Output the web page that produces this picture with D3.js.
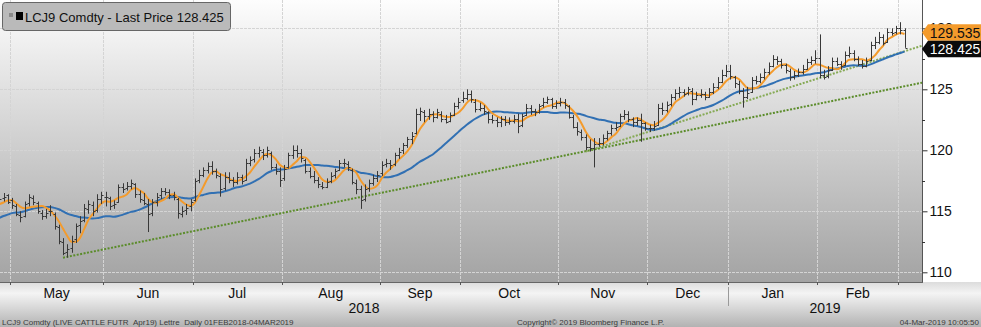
<!DOCTYPE html>
<html><head><meta charset="utf-8">
<script src="https://cdn.jsdelivr.net/npm/d3@7"></script>
<style>
html,body{margin:0;padding:0;background:#fff;}
svg{display:block;font-family:"Liberation Sans",Arial,sans-serif;}
</style></head><body>
<svg id="c" width="981" height="327"></svg>
<script>
// ---------------- data ----------------
const firstDay = "2018-04-26", lastDay = "2019-03-04";
const holidays = ["2018-05-28","2018-07-04","2018-09-03","2018-11-22","2018-12-05","2018-12-25","2019-01-01","2019-01-21","2019-02-18"];

const opens = [
 115.8,116.1,116.3,
 115.9,115.4,114.7,114.6,115.7,116.1,115.7,114.9,114.6,115.0,114.8,113.7,112.5,111.7,112.0,112.7,113.9,114.3,115.2,115.5,115.1,116.0,
 116.2,116.1,115.5,115.8,117.0,116.9,117.1,117.2,116.4,115.9,115.6,114.9,115.8,116.3,116.7,116.6,116.3,116.0,114.8,115.1,115.4,
 115.9,117.6,118.0,118.4,118.7,118.3,117.9,116.9,117.8,117.6,117.4,117.8,117.6,119.0,119.3,119.8,119.9,119.6,119.8,118.6,118.3,
 117.7,118.6,119.6,120.0,119.8,119.2,118.3,117.9,117.6,117.1,117.0,117.5,118.0,118.4,119.0,118.9,118.4,117.3,116.8,116.0,116.9,117.3,117.7,
 118.1,118.9,119.0,118.9,119.6,120.0,120.4,120.9,121.4,123.0,123.1,122.8,123.0,122.7,123.0,122.6,122.4,122.9,123.6,
 124.1,124.3,124.6,124.0,123.4,123.5,123.1,122.6,122.5,122.3,122.6,122.3,122.4,122.6,122.1,122.9,123.5,123.2,123.1,123.7,124.0,124.2,123.6,
 123.9,124.0,123.6,122.7,121.9,121.5,121.1,120.3,120.2,120.5,120.6,121.0,121.4,121.8,122.0,122.8,123.0,122.6,122.3,122.5,122.2,
 121.8,121.8,122.1,123.5,123.3,123.8,124.4,124.7,124.8,124.7,124.9,124.2,124.5,124.6,124.4,124.8,125.2,125.6,126.2,
 126.5,126.0,125.4,124.9,124.4,124.8,125.8,125.7,126.0,126.4,126.9,127.5,127.3,127.0,126.5,126.0,126.2,126.4,126.7,127.2,127.4,
 127.6,126.2,126.1,126.6,127.3,127.1,127.0,127.8,128.0,127.5,127.1,126.9,127.4,128.6,128.9,129.3,128.9,129.7,129.7,
 130.0,129.9];
const highs = [
 116.4,116.5,116.4,
 116.1,115.6,115.0,115.8,116.4,116.3,115.8,115.1,115.2,115.5,114.9,113.9,112.8,112.3,113.0,114.0,114.6,115.6,115.9,115.8,116.4,116.6,
 116.6,116.2,115.9,117.2,117.3,117.4,117.6,117.3,116.7,116.5,116.0,116.0,116.5,116.9,116.9,116.8,116.6,116.1,115.4,115.6,116.0,
 117.7,118.4,118.6,119.0,119.1,118.5,118.1,118.2,118.2,117.8,118.2,118.0,119.3,119.5,120.1,120.3,120.1,120.3,119.9,118.9,118.6,
 118.8,119.8,120.4,120.4,120.1,119.3,118.6,118.3,117.8,117.4,117.7,118.2,118.5,119.2,119.3,119.1,118.5,117.6,117.1,117.2,117.6,118.0,118.3,
 119.1,119.3,119.2,119.8,120.2,120.6,121.1,121.5,123.4,123.5,123.3,123.4,123.2,123.4,123.2,122.9,123.1,123.9,124.3,
 124.8,125.0,124.9,124.2,123.9,123.7,123.2,122.9,122.7,122.8,122.8,122.7,122.9,123.0,123.0,123.8,123.7,123.4,123.8,124.3,124.4,124.3,124.1,
 124.3,124.2,123.7,122.9,122.3,121.7,121.3,120.9,121.0,121.0,121.3,121.6,122.1,122.3,123.0,123.3,123.2,122.7,122.7,123.0,122.3,
 122.1,122.4,123.8,123.9,124.0,124.6,125.0,125.2,125.0,125.2,125.1,124.8,125.0,124.8,125.1,125.5,126.0,126.6,127.0,
 127.0,126.1,125.7,125.1,125.2,126.0,126.1,126.3,126.7,127.2,127.8,127.7,127.5,127.1,126.7,126.5,126.7,127.0,127.5,127.7,128.2,
 129.5,126.6,126.9,127.6,127.6,127.3,128.1,128.5,128.2,127.7,127.4,127.6,128.9,129.3,129.7,129.5,130.0,130.0,130.2,
 130.5,130.0];
const lows = [
 115.6,115.8,115.6,
 115.2,114.6,114.1,114.5,115.4,115.5,114.8,114.3,114.4,114.6,113.5,112.3,111.4,111.2,111.6,112.4,113.2,114.1,114.8,114.6,114.9,115.6,
 115.4,115.1,115.2,115.7,116.5,116.7,116.8,116.1,115.7,115.5,113.3,114.6,115.4,116.0,116.3,116.0,115.9,114.4,114.5,114.7,115.0,
 115.8,117.3,117.8,118.1,118.0,117.7,116.2,116.7,117.3,117.0,117.2,117.2,117.5,118.7,119.0,119.4,119.2,119.4,118.4,118.0,117.0,
 117.5,118.5,119.3,119.4,119.0,118.1,117.7,117.3,116.9,116.8,116.9,117.3,117.7,118.3,118.6,118.3,117.2,116.4,115.2,115.8,116.6,117.1,117.4,
 117.9,118.6,118.4,118.7,119.3,119.7,120.2,120.5,121.3,122.4,122.3,122.5,122.3,122.6,122.3,122.2,122.3,122.8,123.4,
 123.9,124.1,123.9,123.1,123.2,122.9,122.2,122.2,121.9,121.9,122.0,122.1,122.2,121.4,121.9,122.8,122.9,122.8,123.0,123.5,123.8,123.4,123.4,
 123.6,123.4,122.6,121.8,121.2,120.8,120.0,119.9,118.6,120.3,120.4,120.8,121.2,121.6,121.9,122.5,122.3,121.9,122.0,120.7,121.6,
 121.5,121.6,122.0,122.9,123.1,123.6,124.1,124.3,124.4,124.5,123.7,124.1,124.3,124.1,124.3,124.6,125.0,125.5,126.0,
 125.8,125.1,124.6,123.5,124.2,124.7,125.4,125.5,125.8,126.2,126.8,127.0,126.7,126.3,125.7,125.8,126.0,126.2,126.6,127.0,127.1,
 125.9,125.8,125.9,126.5,126.9,126.6,126.9,127.6,127.3,126.9,126.7,126.8,127.3,128.3,128.7,128.6,128.8,129.4,129.5,
 129.5,128.4];
const closes = [
 116.0,116.2,115.8,
 115.5,114.8,114.5,115.6,116.2,115.8,115.0,114.6,114.9,115.0,113.8,112.6,111.6,111.9,112.6,113.8,114.2,115.3,115.6,115.0,116.0,116.3,
 116.2,115.4,115.6,117.0,116.8,117.1,117.3,116.4,116.0,115.7,114.8,115.8,116.2,116.7,116.6,116.3,116.2,114.9,115.0,115.3,115.8,
 117.5,118.0,118.4,118.7,118.3,118.0,116.8,117.8,117.6,117.4,117.8,117.5,119.0,119.2,119.8,120.0,119.6,120.0,118.6,118.3,117.6,
 118.5,119.6,120.0,119.8,119.4,118.3,117.9,117.6,117.2,117.0,117.4,117.9,118.3,119.0,119.0,118.6,117.4,116.8,115.9,116.8,117.3,117.7,118.0,
 118.8,119.0,118.8,119.6,119.9,120.4,120.9,121.2,123.0,123.2,122.8,123.0,122.7,123.1,122.6,122.3,122.9,123.6,124.0,
 124.3,124.6,124.2,123.4,123.5,123.2,122.6,122.5,122.3,122.6,122.3,122.4,122.6,122.0,122.8,123.5,123.2,123.1,123.6,124.0,124.2,123.6,123.9,
 124.0,123.7,122.7,121.9,121.6,121.1,120.3,120.2,120.5,120.6,121.0,121.4,121.8,121.9,122.8,123.0,122.6,122.3,122.5,122.2,121.8,
 121.8,122.0,123.5,123.3,123.7,124.4,124.7,124.8,124.6,125.0,124.2,124.5,124.6,124.4,124.8,125.2,125.6,126.2,126.5,
 126.1,125.5,124.9,124.4,124.7,125.8,125.7,126.0,126.4,126.9,127.5,127.3,127.0,126.6,126.0,126.2,126.4,126.7,127.2,127.4,127.6,
 126.2,126.0,126.6,127.3,127.1,126.9,127.8,128.0,127.5,127.1,126.9,127.3,128.6,128.9,129.3,128.8,129.7,129.65,130.0,
 129.9,128.425];
// closes before the visible window (only feed the moving averages at the left edge)
const priorCloses = [113.2,113.5,113.0,113.8,114.2,113.6,113.9,114.0,113.4,113.8,
                     114.6,115.0,115.3,114.8,115.2,115.5,115.0,115.4,116.0];

const fastPeriod = 5, slowPeriod = 20;
const trendLines = [
  [{date:"2018-05-17", value:111.2}, {date:"2019-03-04", value:125.25}],
  [{date:"2018-11-09", value:119.9}, {date:"2019-03-04", value:128.12}]
];
const monthLabels = ["May","Jun","Jul","Aug","Sep","Oct","Nov","Dec","Jan","Feb"];
const yearLabels = ["2018","2019"];
const yTicks = [110,115,120,125,130];
const yMinorTicks = [112.5,117.5,122.5,127.5];
const legendText = "LCJ9 Comdty - Last Price 128.425";
const fastTagText = "129.535";
const lastTagText = "128.425";
const footLeft = "LCJ9 Comdty (LIVE CATTLE FUTR\u00A0\u00A0Apr19) Lettre\u00A0\u00A0Daily 01FEB2018-04MAR2019";
const footMid = "Copyright\u00A9 2019 Bloomberg Finance L.P.";
const footRight = "04-Mar-2019 10:05:50";

// ---------------- build ----------------
const parse = d3.utcParse("%Y-%m-%d"), fmt = d3.utcFormat("%Y-%m-%d");
const hol = new Set(holidays);
const dates = d3.utcDay.range(parse(firstDay), d3.utcDay.offset(parse(lastDay), 1))
  .filter(d => d.getUTCDay() !== 0 && d.getUTCDay() !== 6 && !hol.has(fmt(d)));
const n = Math.min(dates.length, closes.length);
const idxOf = new Map(dates.map((d, i) => [fmt(d), i]));

const all = priorCloses.concat(closes);
function sma(p) {
  const out = [];
  for (let i = 0; i < n; i++) {
    const k = i + priorCloses.length;
    const s = all.slice(Math.max(0, k - p + 1), k + 1);
    out.push(d3.mean(s));
  }
  return out;
}
const fast = sma(fastPeriod), slow = sma(slowPeriod);

const W = 922, H = 282;
const svg = d3.select("#c");
const x = d3.scaleLinear().domain([0, n - 1]).range([-0.75, 904.5]);
const y = d3.scaleLinear().domain([110, 130]).range([272.3, 28.3]);

const defs = svg.append("defs");
const g1 = defs.append("linearGradient").attr("id", "bg").attr("x1", 0).attr("y1", 0).attr("x2", 0).attr("y2", 1);
g1.append("stop").attr("offset", 0).attr("stop-color", "#fdfdfd");
g1.append("stop").attr("offset", 1).attr("stop-color", "#a3a3a3");
const g2 = defs.append("linearGradient").attr("id", "bot").attr("x1", 0).attr("y1", 0).attr("x2", 0).attr("y2", 1);
g2.append("stop").attr("offset", 0).attr("stop-color", "#dcdcdc");
g2.append("stop").attr("offset", 0.25).attr("stop-color", "#f4f4f4");
g2.append("stop").attr("offset", 1).attr("stop-color", "#b2b2b2");
defs.append("clipPath").attr("id", "clip").append("rect").attr("x", 0).attr("y", 0).attr("width", W).attr("height", H);

svg.append("rect").attr("x", 0).attr("y", 0).attr("width", W).attr("height", H).attr("fill", "url(#bg)");
svg.append("rect").attr("x", 0).attr("y", H).attr("width", 981).attr("height", 327 - H).attr("fill", "url(#bot)");

// month boundaries
const bounds = [];
for (let i = 1; i < n; i++) if (dates[i].getUTCMonth() !== dates[i - 1].getUTCMonth()) bounds.push({i, x: x(i - 0.5), d: dates[i]});

const plot = svg.append("g").attr("clip-path", "url(#clip)");
// grid
plot.selectAll("line.hg").data(yTicks).join("line")
  .attr("x1", 0).attr("x2", W).attr("y1", d => Math.round(y(d)) + 0.5).attr("y2", d => Math.round(y(d)) + 0.5)
  .attr("stroke", "#d4d4d4").attr("stroke-dasharray", "3,1");
plot.selectAll("line.vg").data(bounds).join("line")
  .attr("y1", 0).attr("y2", H).attr("x1", d => Math.round(d.x) + 0.5).attr("x2", d => Math.round(d.x) + 0.5)
  .attr("stroke", "#d4d4d4").attr("stroke-dasharray", "3,1");

// trend lines (extended to the right edge)
const tlColors = ["#5b8c2a", "#86aa55"];
trendLines.forEach((t, k) => {
  const i1 = idxOf.get(t[0].date), i2 = idxOf.get(t[1].date);
  const slope = (t[1].value - t[0].value) / (i2 - i1);
  const iEnd = x.invert(W);
  plot.append("line")
    .attr("x1", x(i1)).attr("y1", y(t[0].value))
    .attr("x2", W).attr("y2", y(t[0].value + slope * (iEnd - i1)))
    .attr("stroke", tlColors[k]).attr("stroke-width", 2).attr("stroke-dasharray", "2,1.5");
});

// moving averages
const line = d3.line().x((d, i) => x(i)).y(d => y(d)).curve(d3.curveMonotoneX);
plot.append("path").attr("d", line(slow)).attr("fill", "none").attr("stroke", "#3170b3").attr("stroke-width", 2);
plot.append("path").attr("d", line(fast)).attr("fill", "none").attr("stroke", "#f49b2c").attr("stroke-width", 2);

// OHLC bars
const bars = plot.append("g").attr("stroke", "#383838").attr("stroke-width", 1).attr("fill", "none");
const idx = d3.range(n);
bars.selectAll("path").data(idx).join("path")
  .attr("d", i => {
    const cx = Math.round(x(i)) + 0.5;
    const yo = Math.round(y(opens[i])) + 0.5, yc = Math.round(y(closes[i])) + 0.5;
    return `M${cx},${y(highs[i])}V${y(lows[i])}M${cx - 2},${yo}H${cx}M${cx},${yc}H${cx + 2}`;
  });

// axes frame
svg.append("line").attr("x1", W + 0.5).attr("x2", W + 0.5).attr("y1", 0).attr("y2", H + 1).attr("stroke", "#555");
svg.append("line").attr("x1", 0).attr("x2", W + 1).attr("y1", H + 0.5).attr("y2", H + 0.5).attr("stroke", "#666");

// right axis
const yAxis = d3.axisRight(y).tickValues(yTicks).tickSize(5).tickPadding(2).tickFormat(d3.format("d"));
const ga = svg.append("g").attr("transform", `translate(${W + 0.5},0)`).call(yAxis);
ga.select(".domain").remove();
ga.selectAll("line").attr("stroke", "#333");
ga.selectAll("text").attr("font-size", 14).attr("fill", "#111").attr("font-family", '"Liberation Sans",Arial,sans-serif');
svg.append("g").selectAll("line").data(yMinorTicks).join("line")
  .attr("x1", W).attr("x2", W + 3).attr("y1", d => Math.round(y(d)) + 0.5).attr("y2", d => Math.round(y(d)) + 0.5)
  .attr("stroke", "#333");

// month ticks & labels
svg.append("g").selectAll("line").data(bounds).join("line")
  .attr("x1", d => Math.round(d.x) + 0.5).attr("x2", d => Math.round(d.x) + 0.5).attr("y1", H).attr("y2", H + 3)
  .attr("stroke", "#555");
svg.append("g").selectAll("text").data(monthLabels).join("text")
  .attr("x", (d, k) => (bounds[k].x + bounds[k + 1].x) / 2).attr("y", 298)
  .attr("text-anchor", "middle").attr("font-size", 14).attr("fill", "#111").text(d => d);
const janB = bounds.find(b => b.d.getUTCMonth() === 0);
svg.append("line").attr("x1", Math.round(janB.x) + 0.5).attr("x2", Math.round(janB.x) + 0.5).attr("y1", 287).attr("y2", 306)
  .attr("stroke", "#9a9a9a");
svg.append("g").selectAll("text").data(yearLabels).join("text")
  .attr("x", (d, k) => k === 0 ? janB.x / 2 : (janB.x + W) / 2).attr("y", 313)
  .attr("text-anchor", "middle").attr("font-size", 14).attr("fill", "#111").text(d => d);

// footer
const foot = svg.append("g").attr("font-size", 8).attr("fill", "#3a3a3a");
foot.append("text").attr("x", 2).attr("y", 325).text(footLeft);
foot.append("text").attr("x", 517).attr("y", 325).text(footMid);
foot.append("text").attr("x", 979).attr("y", 325).attr("text-anchor", "end").text(footRight);

// price tags
const tagH = 16.5;
let yF = y(fast[n - 1]), yL = y(closes[n - 1]);
const gap = tagH - (yL - yF);
if (gap > 0) { yF -= gap / 2; yL += gap / 2; }
function tag(cy, fill, txtColor, label) {
  svg.append("path")
    .attr("d", `M${W},${cy}L${W + 6},${cy - tagH / 2}H981V${cy + tagH / 2}H${W + 6}Z`)
    .attr("fill", fill);
  svg.append("text").attr("x", 955).attr("y", cy).attr("dy", "0.36em").attr("text-anchor", "middle")
    .attr("font-size", 14).attr("fill", txtColor).text(label);
}
tag(yF, "#f49b2c", "#111", fastTagText);
tag(yL, "#0a0a0a", "#fff", lastTagText);

// legend
const lg = svg.append("g");
lg.append("rect").attr("x", 2.5).attr("y", 2.5).attr("width", 228).attr("height", 28).attr("rx", 3)
  .attr("fill", "#bababa").attr("stroke", "#666");
lg.append("rect").attr("x", 9).attr("y", 13).attr("width", 4).attr("height", 4).attr("fill", "#8a8a8a");
lg.append("rect").attr("x", 16).attr("y", 12).attr("width", 7).attr("height", 8).attr("fill", "#000");
lg.append("text").attr("x", 25).attr("y", 22).attr("font-size", 13).attr("fill", "#111").text(legendText);
</script>
</body></html>
